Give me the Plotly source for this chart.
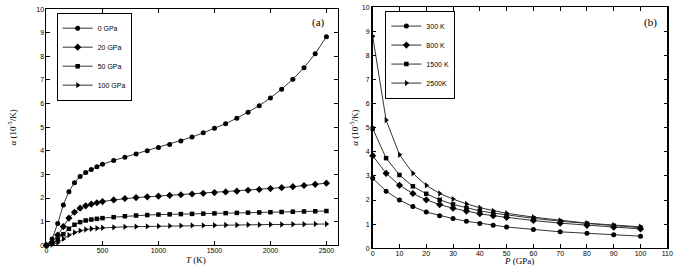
import plotly.graph_objects as go

# ---- Panel (a): alpha vs T ----
T_vals = [0, 50, 100, 150, 200, 250, 300, 350, 400, 450, 500,
          600, 700, 800, 900, 1000, 1100, 1200, 1300, 1400, 1500,
          1600, 1700, 1800, 1900, 2000, 2100, 2200, 2300, 2400, 2500]
a_0GPa = [0, 0.27, 0.92, 1.71, 2.27, 2.65, 2.91, 3.08, 3.21, 3.32, 3.43,
          3.59, 3.73, 3.86, 4.0, 4.14, 4.27, 4.41, 4.58, 4.76, 4.95,
          5.15, 5.38, 5.63, 5.91, 6.24, 6.61, 7.03, 7.52, 8.11, 8.83]
a_20GPa = [0, 0.13, 0.43, 0.79, 1.15, 1.4, 1.57, 1.67, 1.74, 1.8, 1.85,
           1.92, 1.98, 2.02, 2.05, 2.08, 2.11, 2.14, 2.17, 2.2, 2.23,
           2.26, 2.29, 2.33, 2.36, 2.4, 2.44, 2.48, 2.53, 2.58, 2.63]
a_50GPa = [0, 0.06, 0.24, 0.47, 0.7, 0.87, 0.98, 1.05, 1.09, 1.12, 1.15,
           1.19, 1.23, 1.26, 1.28, 1.3, 1.31, 1.32, 1.33, 1.34, 1.35,
           1.36, 1.37, 1.38, 1.39, 1.4, 1.41, 1.42, 1.43, 1.44, 1.45]
a_100GPa = [0, 0.03, 0.11, 0.27, 0.43, 0.54, 0.62, 0.67, 0.7, 0.72, 0.74,
            0.76, 0.78, 0.79, 0.8, 0.81, 0.82, 0.83, 0.84, 0.84, 0.85,
            0.86, 0.86, 0.87, 0.87, 0.88, 0.88, 0.89, 0.89, 0.9, 0.9]
names_a = ["0 GPa", "20 GPa", "50 GPa", "100 GPa"]

# ---- Panel (b): alpha vs P ----
P_vals = [0, 5, 10, 15, 20, 25, 30, 35, 40, 45, 50, 60, 70, 80, 90, 100]
a_300K = [2.9, 2.37, 2.0, 1.73, 1.5, 1.35, 1.23, 1.12, 1.03, 0.95, 0.88,
          0.78, 0.68, 0.62, 0.56, 0.5]
a_800K = [3.84, 3.11, 2.61, 2.27, 2.01, 1.81, 1.66, 1.54, 1.43, 1.35, 1.28,
          1.15, 1.04, 0.95, 0.87, 0.8]
a_1500K = [4.97, 3.74, 3.04, 2.57, 2.26, 2.01, 1.82, 1.67, 1.55, 1.46, 1.38,
           1.24, 1.12, 1.02, 0.93, 0.85]
a_2500K = [8.8, 5.32, 3.88, 3.11, 2.61, 2.27, 2.04, 1.84, 1.68, 1.55, 1.45,
           1.29, 1.15, 1.04, 0.96, 0.89]
names_b = ["300 K", "800 K", "1500 K", "2500K"]

symbols = ["circle", "diamond", "square", "triangle-right"]
sizes = [5, 5.5, 4.5, 5.5]

fig = go.Figure()
for ys, nm, sym, sz in zip([a_0GPa, a_20GPa, a_50GPa, a_100GPa], names_a, symbols, sizes):
    fig.add_trace(go.Scatter(
        x=T_vals, y=ys, name=nm, mode="lines+markers", cliponaxis=False,
        line=dict(color="#333333", width=1),
        marker=dict(symbol=sym, size=sz, color="black"),
        xaxis="x", yaxis="y", legend="legend"))
for ys, nm, sym, sz in zip([a_300K, a_800K, a_1500K, a_2500K], names_b, symbols, sizes):
    fig.add_trace(go.Scatter(
        x=P_vals, y=ys, name=nm, mode="lines+markers", cliponaxis=False,
        line=dict(color="#333333", width=1),
        marker=dict(symbol=sym, size=sz, color="black"),
        xaxis="x2", yaxis="y2", legend="legend2"))

tickfont = dict(family="Liberation Sans, Arial, sans-serif", size=7, color="black")
axcommon = dict(showgrid=False, zeroline=False, showline=True, linecolor="black",
                mirror="allticks", ticks="inside", ticklen=4,
                tickcolor="black", tickfont=tickfont)
legfont = dict(family="Liberation Sans, Arial, sans-serif", size=7, color="black")

fig.update_layout(
    width=700, height=270,
    margin=dict(l=0, r=0, t=0, b=0),
    paper_bgcolor="white", plot_bgcolor="white",
    xaxis=dict(domain=[0.0643, 0.485], range=[0, 2600], tickvals=[0, 500, 1000, 1500, 2000, 2500],
               anchor="y", linewidth=1, ticklabelstandoff=-2, **axcommon),
    yaxis=dict(domain=[0.0826, 0.9807], range=[0, 10], dtick=1, anchor="x", linewidth=1, **axcommon),
    xaxis2=dict(domain=[0.5357, 0.9614], range=[0, 110], dtick=10, anchor="y2", linewidth=1,
                ticklabelstandoff=-2, **axcommon),
    yaxis2=dict(domain=[0.0715, 0.987], range=[0, 10], dtick=1, anchor="x2", linewidth=1.5, **axcommon),
    legend=dict(x=0.079, y=0.967, xanchor="left", yanchor="top",
                bgcolor="white", bordercolor="black", borderwidth=1,
                font=legfont, itemwidth=30, tracegroupgap=0),
    legend2=dict(x=0.554, y=0.975, xanchor="left", yanchor="top",
                 bgcolor="white", bordercolor="black", borderwidth=1,
                 font=legfont, itemwidth=30, tracegroupgap=0),
    showlegend=True,
)

serif = dict(family="Liberation Serif, Times New Roman, serif", size=9, color="black")


def px_ann(text, x, y, size=9, angle=0):
    fig.add_annotation(text=text, x=x / 700, y=1 - y / 270, xref="paper", yref="paper",
                       xanchor="center", yanchor="middle", showarrow=False,
                       textangle=angle, font=dict(**{**serif, "size": size}))


px_ann("(a)", 320, 19, size=11)
px_ann("(b)", 656, 19, size=11)
px_ann("<i>T</i> (K)", 196, 263)
px_ann("<i>P</i> (GPa)", 523, 264)
px_ann("<i>α</i> (10<sup>-5</sup>/K)", 10, 127, angle=-90)
px_ann("<i>α</i> (10<sup>-5</sup>/K)", 356, 127, angle=-90)

fig.write_html("out.html", config={"displayModeBar": False},
               post_script="document.body.style.margin='0';")
